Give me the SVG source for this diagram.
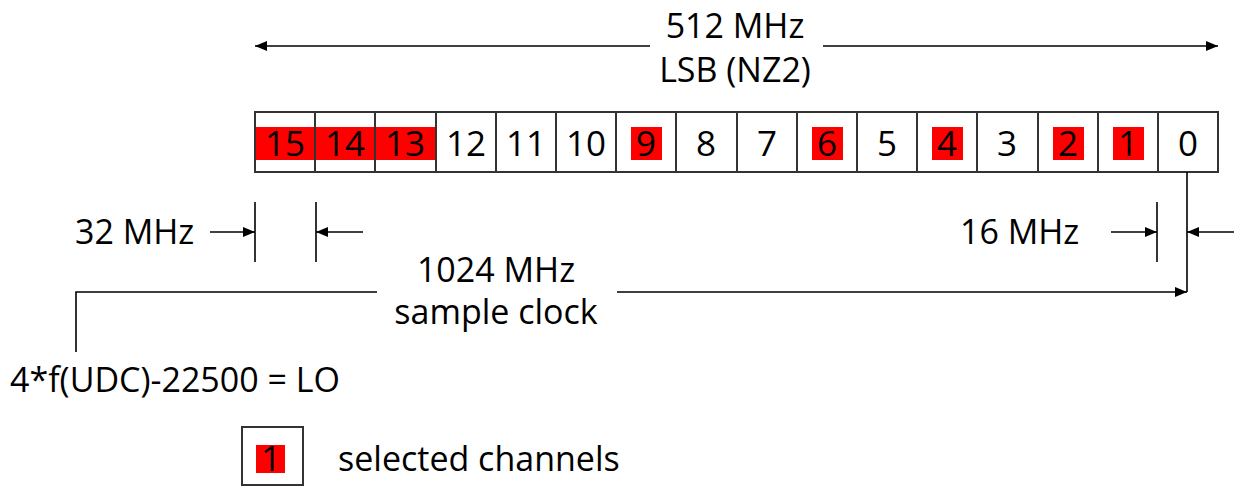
<svg xmlns="http://www.w3.org/2000/svg" width="1234" height="487" viewBox="0 0 1234 487">
<defs>
<style>
text{font-family:"Open Sans","Liberation Sans",sans-serif;font-size:34px;fill:#000}
.c{text-anchor:middle}
.d{font-size:35px}
.cell{fill:#fff;stroke:#333;stroke-width:2}
.hl{fill:#ff0000}
.ln{fill:none;stroke:#000;stroke-width:1.6}
</style>
<marker id="ah" viewBox="0 0 12 10" refX="12" refY="5" markerWidth="12" markerHeight="10" markerUnits="userSpaceOnUse" orient="auto">
<path d="M0,0 L12,5 L0,10 Z" fill="#000"/>
</marker>
</defs>
<rect width="1234" height="487" fill="#fff"/>
<g id="title">
<text class="c" x="735" y="38">512 MHz</text>
<text class="c" x="735" y="82">LSB (NZ2)</text>
</g>
<g id="channels">
<rect class="cell" x="255" y="112" width="963" height="60"/>
<rect class="hl" x="256" y="127" width="180" height="33"/>
<rect class="hl" x="631" y="127" width="31" height="33"/>
<rect class="hl" x="812" y="127" width="31" height="33"/>
<rect class="hl" x="932" y="127" width="31" height="33"/>
<rect class="hl" x="1053" y="127" width="31" height="33"/>
<rect class="hl" x="1113" y="127" width="31" height="33"/>
<path d="M315,112V172M375,112V172M436,112V172M496,112V172M556,112V172M616,112V172M676,112V172M737,112V172M797,112V172M857,112V172M917,112V172M977,112V172M1038,112V172M1098,112V172M1158,112V172" stroke="#333" stroke-width="2"/>
<text class="c d" x="285" y="156">15</text>
<text class="c d" x="345" y="156">14</text>
<text class="c d" x="405" y="156">13</text>
<text class="c d" x="466" y="156">12</text>
<text class="c d" x="526" y="156">11</text>
<text class="c d" x="586" y="156">10</text>
<text class="c d" x="646" y="156">9</text>
<text class="c d" x="706" y="156">8</text>
<text class="c d" x="767" y="156">7</text>
<text class="c d" x="827" y="156">6</text>
<text class="c d" x="887" y="156">5</text>
<text class="c d" x="947" y="156">4</text>
<text class="c d" x="1007" y="156">3</text>
<text class="c d" x="1068" y="156">2</text>
<text class="c d" x="1128" y="156">1</text>
<text class="c d" x="1188" y="156">0</text>
</g>
<g id="label-32">
<text x="75" y="244">32 MHz</text>
</g>
<g id="label-16">
<text x="960" y="244">16 MHz</text>
</g>
<g id="label-clock">
<text class="c" x="496" y="282">1024 MHz</text>
<text class="c" x="496" y="324">sample clock</text>
</g>
<g id="label-lo">
<text x="10" y="392" font-size="35">4*f(UDC)-22500 = LO</text>
</g>
<g id="legend">
<rect x="242" y="427" width="61" height="58" fill="#fff" stroke="#333" stroke-width="2"/>
<rect class="hl" x="256" y="445" width="29" height="28"/>
<text class="c d" x="271" y="471">1</text>
<text x="338" y="471">selected channels</text>
</g>
<g id="connectors">
<line class="ln" x1="650" y1="46" x2="255" y2="46" marker-end="url(#ah)"/>
<line class="ln" x1="823" y1="46" x2="1218" y2="46" marker-end="url(#ah)"/>
<line class="ln" x1="255" y1="202" x2="255" y2="262"/>
<line class="ln" x1="316" y1="202" x2="316" y2="262"/>
<line class="ln" x1="210" y1="232" x2="255" y2="232" marker-end="url(#ah)"/>
<line class="ln" x1="363" y1="232" x2="316" y2="232" marker-end="url(#ah)"/>
<line class="ln" x1="1157" y1="202" x2="1157" y2="262"/>
<line class="ln" x1="1111" y1="232" x2="1157" y2="232" marker-end="url(#ah)"/>
<line class="ln" x1="1234" y1="232" x2="1187" y2="232" marker-end="url(#ah)"/>
<line class="ln" x1="1187" y1="172" x2="1187" y2="292"/>
<polyline class="ln" points="76,352 76,292 377,292"/>
<line class="ln" x1="617" y1="292" x2="1187" y2="292" marker-end="url(#ah)"/>
</g>
</svg>
